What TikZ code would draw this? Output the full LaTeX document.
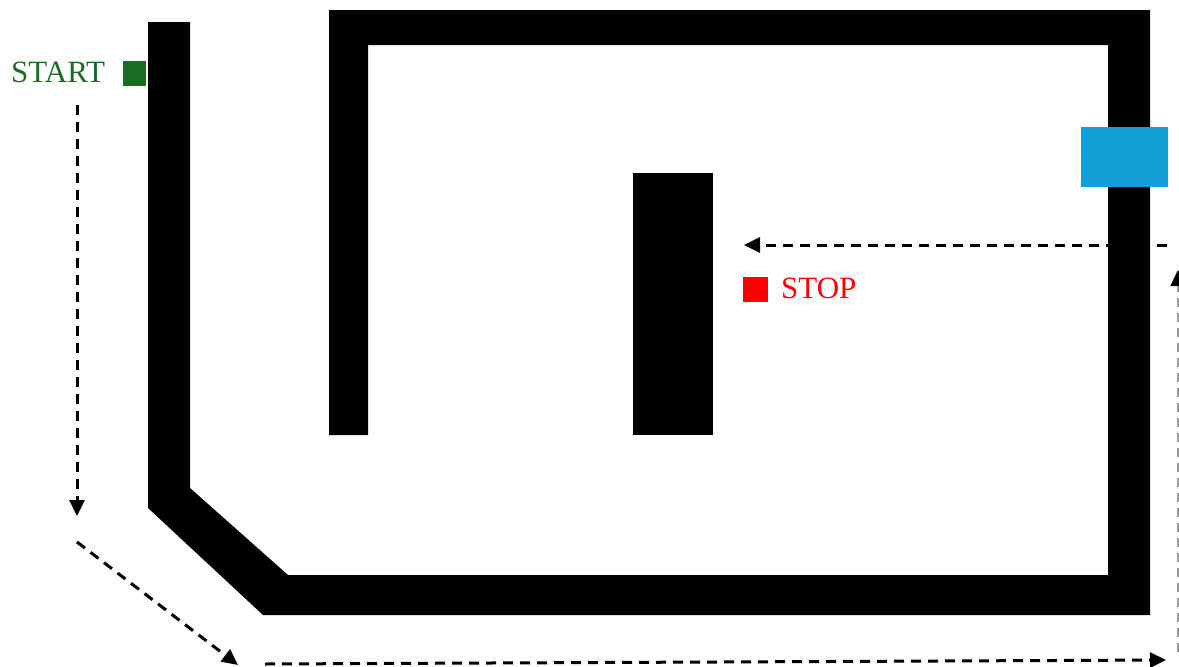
\documentclass[tikz,border=0pt]{standalone}
\usepackage{fontspec}
\setmainfont{Liberation Serif}
\usetikzlibrary{arrows.meta}
\definecolor{startgreen}{HTML}{1C6B24}
\definecolor{stopred}{HTML}{FF0000}
\definecolor{robotblue}{HTML}{129FD6}
\tikzset{
  wall/.style={fill=black, draw=none},
  pathline/.style={line width=3pt, dash pattern=on 10pt off 7pt, -{Triangle[length=16pt,width=15pt]}},
  grayline/.style={line width=1.4pt, draw=black!40, dash pattern=on 9pt off 6pt, -{Triangle[length=16pt,width=15pt,color=black]}},
  marker/.style={draw=none, inner sep=0pt, anchor=north west},
  label/.style={inner sep=0pt, anchor=base west, font=\fontsize{31}{37}\selectfont},
}
\begin{document}
\begin{tikzpicture}[x=1pt,y=-1pt]
\useasboundingbox (0,0) rectangle (1179,667);
% walls
\fill[wall] (148,22) -- (190,22) -- (190,488) -- (288,575) -- (1108,575) -- (1108,45)
  -- (368,45) -- (368,435) -- (329,435) -- (329,10) -- (1150,10) -- (1150,615)
  -- (263,615) -- (148,508) -- cycle;
\node[wall, marker, minimum width=80pt, minimum height=262pt] (block) at (633,173) {};
% robot
\node[marker, fill=robotblue, minimum width=87pt, minimum height=60pt] (robot) at (1081,127) {};
% start / stop
\node[marker, fill=startgreen, minimum width=23pt, minimum height=25pt] (startsq) at (123,61) {};
\node[label, text=startgreen] (startlbl) at (11,82) {START};
\node[marker, fill=stopred, minimum width=25pt, minimum height=25pt] (stopsq) at (743,277) {};
\node[label, text=stopred] (stoplbl) at (781,298) {STOP};
% path coordinates
\coordinate (a1) at (77,105);
\coordinate (a2) at (77,516);
\coordinate (b1) at (77,542);
\coordinate (b2) at (238,665);
\coordinate (c1) at (265,664);
\coordinate (c2) at (1166,660);
\coordinate (d1) at (1178,652);
\coordinate (d2) at (1178,270);
\coordinate (e1) at (1167,245);
\coordinate (e2) at (744,245);
\draw[pathline] (a1) -- (a2);
\draw[pathline] (b1) -- (b2);
\draw[pathline] (c1) -- (c2);
\draw[grayline] (d1) -- (d2);
\draw[pathline] (e1) -- (e2);
\end{tikzpicture}
\end{document}
